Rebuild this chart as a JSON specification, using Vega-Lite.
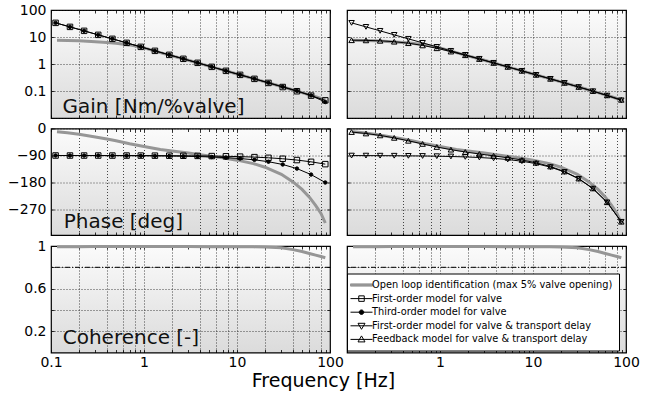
{
"$schema": "https://vega.github.io/schema/vega-lite/v6.json",
"padding": {"left": 6, "top": 2, "right": 5, "bottom": 5},
"bounds": "flush",
"columns": 2,
"spacing": {"row": 10.5, "column": 17},
"title": {"text": "Frequency [Hz]", "orient": "bottom", "anchor": "middle", "fontSize": 19, "fontWeight": "normal", "font": "DejaVu Sans", "color": "black", "offset": 2},
"datasets": {
"model": [
{"f":0.112,"series":"First-order model for valve","gain":33.4,"phase":-90.0},
{"f":0.160,"series":"First-order model for valve","gain":23.7,"phase":-90.1},
{"f":0.227,"series":"First-order model for valve","gain":16.9,"phase":-90.1},
{"f":0.322,"series":"First-order model for valve","gain":12.0,"phase":-90.1},
{"f":0.457,"series":"First-order model for valve","gain":8.55,"phase":-90.2},
{"f":0.650,"series":"First-order model for valve","gain":6.07,"phase":-90.2},
{"f":0.924,"series":"First-order model for valve","gain":4.31,"phase":-90.3},
{"f":1.31,"series":"First-order model for valve","gain":3.07,"phase":-90.5},
{"f":1.87,"series":"First-order model for valve","gain":2.18,"phase":-90.7},
{"f":2.65,"series":"First-order model for valve","gain":1.555,"phase":-90.9},
{"f":3.77,"series":"First-order model for valve","gain":1.104,"phase":-91.3},
{"f":5.35,"series":"First-order model for valve","gain":0.784,"phase":-91.9},
{"f":7.60,"series":"First-order model for valve","gain":0.558,"phase":-92.7},
{"f":10.8,"series":"First-order model for valve","gain":0.396,"phase":-93.8},
{"f":15.4,"series":"First-order model for valve","gain":0.2816,"phase":-95.4},
{"f":21.8,"series":"First-order model for valve","gain":0.1992,"phase":-97.7},
{"f":31.0,"series":"First-order model for valve","gain":0.1403,"phase":-100.8},
{"f":44.1,"series":"First-order model for valve","gain":0.0981,"phase":-105.2},
{"f":62.6,"series":"First-order model for valve","gain":0.0675,"phase":-111.1},
{"f":89.0,"series":"First-order model for valve","gain":0.0451,"phase":-118.8},
{"f":0.112,"series":"Third-order model for valve","gain":33.4,"phase":-90.1},
{"f":0.160,"series":"Third-order model for valve","gain":23.7,"phase":-90.2},
{"f":0.227,"series":"Third-order model for valve","gain":16.9,"phase":-90.2},
{"f":0.322,"series":"Third-order model for valve","gain":12.0,"phase":-90.3},
{"f":0.457,"series":"Third-order model for valve","gain":8.55,"phase":-90.4},
{"f":0.650,"series":"Third-order model for valve","gain":6.07,"phase":-90.6},
{"f":0.924,"series":"Third-order model for valve","gain":4.315,"phase":-90.9},
{"f":1.31,"series":"Third-order model for valve","gain":3.073,"phase":-91.2},
{"f":1.87,"series":"Third-order model for valve","gain":2.183,"phase":-91.7},
{"f":2.65,"series":"Third-order model for valve","gain":1.555,"phase":-92.5},
{"f":3.77,"series":"Third-order model for valve","gain":1.105,"phase":-93.5},
{"f":5.35,"series":"Third-order model for valve","gain":0.785,"phase":-95.0},
{"f":7.60,"series":"Third-order model for valve","gain":0.559,"phase":-97.1},
{"f":10.8,"series":"Third-order model for valve","gain":0.398,"phase":-100.1},
{"f":15.4,"series":"Third-order model for valve","gain":0.284,"phase":-104.5},
{"f":21.8,"series":"Third-order model for valve","gain":0.202,"phase":-110.7},
{"f":31.0,"series":"Third-order model for valve","gain":0.144,"phase":-119.9},
{"f":44.1,"series":"Third-order model for valve","gain":0.102,"phase":-133.6},
{"f":62.6,"series":"Third-order model for valve","gain":0.0684,"phase":-153.6},
{"f":89.0,"series":"Third-order model for valve","gain":0.039,"phase":-180.0},
{"f":0.112,"series":"First-order model for valve & transport delay","gain":33.4,"phase":-90.3},
{"f":0.160,"series":"First-order model for valve & transport delay","gain":23.7,"phase":-90.4},
{"f":0.227,"series":"First-order model for valve & transport delay","gain":16.9,"phase":-90.6},
{"f":0.322,"series":"First-order model for valve & transport delay","gain":12.0,"phase":-90.8},
{"f":0.457,"series":"First-order model for valve & transport delay","gain":8.55,"phase":-91.2},
{"f":0.650,"series":"First-order model for valve & transport delay","gain":6.07,"phase":-91.6},
{"f":0.924,"series":"First-order model for valve & transport delay","gain":4.31,"phase":-92.3},
{"f":1.31,"series":"First-order model for valve & transport delay","gain":3.07,"phase":-93.3},
{"f":1.87,"series":"First-order model for valve & transport delay","gain":2.18,"phase":-94.7},
{"f":2.65,"series":"First-order model for valve & transport delay","gain":1.555,"phase":-96.7},
{"f":3.77,"series":"First-order model for valve & transport delay","gain":1.104,"phase":-99.5},
{"f":5.35,"series":"First-order model for valve & transport delay","gain":0.784,"phase":-103.4},
{"f":7.60,"series":"First-order model for valve & transport delay","gain":0.558,"phase":-109.1},
{"f":10.8,"series":"First-order model for valve & transport delay","gain":0.396,"phase":-117.1},
{"f":15.4,"series":"First-order model for valve & transport delay","gain":0.2816,"phase":-128.7},
{"f":21.8,"series":"First-order model for valve & transport delay","gain":0.1992,"phase":-144.8},
{"f":31.0,"series":"First-order model for valve & transport delay","gain":0.1403,"phase":-167.8},
{"f":44.1,"series":"First-order model for valve & transport delay","gain":0.0981,"phase":-200.5},
{"f":62.6,"series":"First-order model for valve & transport delay","gain":0.0675,"phase":-246.3},
{"f":89.0,"series":"First-order model for valve & transport delay","gain":0.0451,"phase":-311.0},
{"f":0.112,"series":"Feedback model for valve & transport delay","gain":7.59,"phase":-11.8},
{"f":0.160,"series":"Feedback model for valve & transport delay","gain":7.50,"phase":-16.6},
{"f":0.227,"series":"Feedback model for valve & transport delay","gain":7.22,"phase":-23.0},
{"f":0.322,"series":"Feedback model for valve & transport delay","gain":6.69,"phase":-31.2},
{"f":0.457,"series":"Feedback model for valve & transport delay","gain":5.90,"phase":-40.9},
{"f":0.650,"series":"Feedback model for valve & transport delay","gain":4.88,"phase":-51.4},
{"f":0.924,"series":"Feedback model for valve & transport delay","gain":3.83,"phase":-61.6},
{"f":1.31,"series":"Feedback model for valve & transport delay","gain":2.885,"phase":-70.5},
{"f":1.87,"series":"Feedback model for valve & transport delay","gain":2.114,"phase":-78.3},
{"f":2.65,"series":"Feedback model for valve & transport delay","gain":1.530,"phase":-84.9},
{"f":3.77,"series":"Feedback model for valve & transport delay","gain":1.096,"phase":-91.2},
{"f":5.35,"series":"Feedback model for valve & transport delay","gain":0.782,"phase":-97.6},
{"f":7.60,"series":"Feedback model for valve & transport delay","gain":0.557,"phase":-105.0},
{"f":10.8,"series":"Feedback model for valve & transport delay","gain":0.396,"phase":-114.2},
{"f":15.4,"series":"Feedback model for valve & transport delay","gain":0.2821,"phase":-126.7},
{"f":21.8,"series":"Feedback model for valve & transport delay","gain":0.1998,"phase":-143.3},
{"f":31.0,"series":"Feedback model for valve & transport delay","gain":0.1412,"phase":-166.8},
{"f":44.1,"series":"Feedback model for valve & transport delay","gain":0.0993,"phase":-199.8},
{"f":62.6,"series":"Feedback model for valve & transport delay","gain":0.0690,"phase":-245.8},
{"f":89.0,"series":"Feedback model for valve & transport delay","gain":0.0471,"phase":-310.7}
],
"ol": [
{"f":0.116,"gain":7.6,"phase":-11,"coh":0.992},
{"f":0.15,"gain":7.45,"phase":-14.5,"coh":0.993},
{"f":0.2,"gain":7.2,"phase":-19,"coh":0.994},
{"f":0.3,"gain":6.7,"phase":-28,"coh":0.995},
{"f":0.4,"gain":6.3,"phase":-35,"coh":0.995},
{"f":0.5,"gain":5.85,"phase":-41,"coh":0.995},
{"f":0.7,"gain":5.1,"phase":-51,"coh":0.995},
{"f":1,"gain":3.95,"phase":-60,"coh":0.995},
{"f":1.5,"gain":2.65,"phase":-70,"coh":0.995},
{"f":2,"gain":2.0,"phase":-75,"coh":0.995},
{"f":3,"gain":1.37,"phase":-82,"coh":0.995},
{"f":5,"gain":0.836,"phase":-91.5,"coh":0.994},
{"f":7,"gain":0.604,"phase":-97.5,"coh":0.994},
{"f":10,"gain":0.4275,"phase":-105.5,"coh":0.993},
{"f":15,"gain":0.2883,"phase":-117,"coh":0.992},
{"f":20,"gain":0.2177,"phase":-129,"coh":0.99},
{"f":30,"gain":0.146,"phase":-152.5,"coh":0.984},
{"f":40,"gain":0.1095,"phase":-178,"coh":0.966},
{"f":50,"gain":0.0872,"phase":-203,"coh":0.948},
{"f":60,"gain":0.0722,"phase":-229,"coh":0.93},
{"f":70,"gain":0.0613,"phase":-256,"coh":0.914},
{"f":80,"gain":0.0529,"phase":-283,"coh":0.901},
{"f":89,"gain":0.047,"phase":-315,"coh":0.89}
]
},
"resolve": {
"scale": {"shape": "independent", "fill": "independent", "size": "independent", "stroke": "independent"},
"legend": {"shape": "independent", "fill": "independent", "size": "independent", "stroke": "independent"}
},
"concat": [
{
"width": 279, "height": 108,
"resolve": {"axis": {"x": "independent", "y": "independent"}},
"layer": [
{"data": {"name": "ol"}, "mark": {"type": "line", "color": "#969696", "strokeWidth": 3},
"encoding": {
"x": {"field": "f", "type": "quantitative", "scale": {"type": "log", "domain": [0.1, 100], "nice": false},
"axis": {"orient": "bottom", "values": [0.1,0.2,0.3,0.4,0.5,0.6,0.7,0.8,0.9,1,2,3,4,5,6,7,8,9,10,20,30,40,50,60,70,80,90,100], "labels": false, "grid": true, "gridOpacity": {"condition": {"test": "indexof([0.2,0.4,0.6,0.8,1,2,4,6,8,10,20,40,60,80], datum.value) >= 0", "value": 1}, "value": 0}, "title": null}},
"y": {"field": "gain", "type": "quantitative", "scale": {"type": "log", "domain": [0.01, 100], "nice": false},
"axis": {"orient": "left", "values": [0.01, 0.1, 1, 10, 100], "format": "~g", "labelExpr": "datum.value == 0.01 ? '' : datum.label", "grid": true, "title": null}}
}},
{"data": {"name": "model"}, "transform": [{"filter": {"field": "series", "oneOf": ["First-order model for valve", "Third-order model for valve"]}}],
"mark": {"type": "line", "color": "black", "strokeWidth": 1},
"encoding": {
"x": {"field": "f", "type": "quantitative", "axis": {"orient": "top", "values": [0.1,0.2,0.3,0.4,0.5,0.6,0.7,0.8,0.9,1,2,3,4,5,6,7,8,9,10,20,30,40,50,60,70,80,90,100], "labels": false, "grid": false, "title": null}},
"y": {"field": "gain", "type": "quantitative", "axis": {"orient": "right", "values": [0.01, 0.1, 1, 10, 100], "labels": false, "grid": false, "title": null}},
"detail": {"field": "series"}
}},
{"data": {"name": "model"}, "transform": [{"filter": {"field": "series", "oneOf": ["First-order model for valve", "Third-order model for valve"]}}],
"mark": {"type": "point", "filled": true, "stroke": "black", "strokeWidth": 1, "opacity": 1},
"encoding": {
"x": {"field": "f", "type": "quantitative", "axis": null},
"y": {"field": "gain", "type": "quantitative", "axis": null},
"shape": {"field": "series", "type": "nominal", "scale": {"domain": ["First-order model for valve", "Third-order model for valve"], "range": ["square", "circle"]}, "legend": null},
"fill": {"field": "series", "type": "nominal", "scale": {"domain": ["First-order model for valve", "Third-order model for valve"], "range": ["transparent", "black"]}, "legend": null},
"size": {"field": "series", "type": "nominal", "scale": {"domain": ["First-order model for valve", "Third-order model for valve"], "range": [30, 12]}, "legend": null}
}},
{"data": {"values": [{}]}, "mark": {"type": "text", "text": "Gain [Nm/%valve]", "align": "left", "baseline": "alphabetic", "fontSize": 20, "font": "DejaVu Sans", "color": "#111"},
"encoding": {"x": {"datum": 0.133, "type": "quantitative", "axis": null}, "y": {"datum": 0.0148, "type": "quantitative", "axis": null}}}
]
},
{
"width": 279, "height": 108,
"resolve": {"axis": {"x": "independent", "y": "independent"}},
"layer": [
{"data": {"name": "ol"}, "mark": {"type": "line", "color": "#969696", "strokeWidth": 3},
"encoding": {
"x": {"field": "f", "type": "quantitative", "scale": {"type": "log", "domain": [0.1, 100], "nice": false},
"axis": {"orient": "bottom", "values": [0.1,0.2,0.3,0.4,0.5,0.6,0.7,0.8,0.9,1,2,3,4,5,6,7,8,9,10,20,30,40,50,60,70,80,90,100], "labels": false, "grid": true, "gridOpacity": {"condition": {"test": "indexof([0.2,0.4,0.6,0.8,1,2,4,6,8,10,20,40,60,80], datum.value) >= 0", "value": 1}, "value": 0}, "title": null}},
"y": {"field": "gain", "type": "quantitative", "scale": {"type": "log", "domain": [0.01, 100], "nice": false},
"axis": {"orient": "left", "values": [0.01, 0.1, 1, 10, 100], "labels": false, "grid": true, "title": null}}
}},
{"data": {"name": "model"}, "transform": [{"filter": {"field": "series", "oneOf": ["First-order model for valve & transport delay", "Feedback model for valve & transport delay"]}}],
"mark": {"type": "line", "color": "black", "strokeWidth": 1},
"encoding": {
"x": {"field": "f", "type": "quantitative", "axis": {"orient": "top", "values": [0.1,0.2,0.3,0.4,0.5,0.6,0.7,0.8,0.9,1,2,3,4,5,6,7,8,9,10,20,30,40,50,60,70,80,90,100], "labels": false, "grid": false, "title": null}},
"y": {"field": "gain", "type": "quantitative", "axis": {"orient": "right", "values": [0.01, 0.1, 1, 10, 100], "labels": false, "grid": false, "title": null}},
"detail": {"field": "series"}
}},
{"data": {"name": "model"}, "transform": [{"filter": {"field": "series", "oneOf": ["First-order model for valve & transport delay", "Feedback model for valve & transport delay"]}}],
"mark": {"type": "point", "filled": true, "stroke": "black", "strokeWidth": 1, "opacity": 1},
"encoding": {
"x": {"field": "f", "type": "quantitative", "axis": null},
"y": {"field": "gain", "type": "quantitative", "axis": null},
"shape": {"field": "series", "type": "nominal", "scale": {"domain": ["First-order model for valve & transport delay", "Feedback model for valve & transport delay"], "range": ["triangle-down", "triangle-up"]}, "legend": null},
"fill": {"field": "series", "type": "nominal", "scale": {"domain": ["First-order model for valve & transport delay", "Feedback model for valve & transport delay"], "range": ["transparent", "transparent"]}, "legend": null},
"size": {"field": "series", "type": "nominal", "scale": {"domain": ["First-order model for valve & transport delay", "Feedback model for valve & transport delay"], "range": [30, 30]}, "legend": null}
}}
]
},
{
"width": 279, "height": 106.5,
"resolve": {"axis": {"x": "independent", "y": "independent"}},
"layer": [
{"data": {"name": "ol"}, "mark": {"type": "line", "color": "#969696", "strokeWidth": 3},
"encoding": {
"x": {"field": "f", "type": "quantitative", "scale": {"type": "log", "domain": [0.1, 100], "nice": false},
"axis": {"orient": "bottom", "values": [0.1,0.2,0.3,0.4,0.5,0.6,0.7,0.8,0.9,1,2,3,4,5,6,7,8,9,10,20,30,40,50,60,70,80,90,100], "labels": false, "grid": true, "gridOpacity": {"condition": {"test": "indexof([0.2,0.4,0.6,0.8,1,2,4,6,8,10,20,40,60,80], datum.value) >= 0", "value": 1}, "value": 0}, "title": null}},
"y": {"field": "phase", "type": "quantitative", "scale": {"domain": [-355, 0], "nice": false, "zero": false},
"axis": {"orient": "left", "values": [0, -90, -180, -270], "grid": true, "title": null}}
}},
{"data": {"name": "model"}, "transform": [{"filter": {"field": "series", "oneOf": ["First-order model for valve", "Third-order model for valve"]}}],
"mark": {"type": "line", "color": "black", "strokeWidth": 1},
"encoding": {
"x": {"field": "f", "type": "quantitative", "axis": {"orient": "top", "values": [0.1,0.2,0.3,0.4,0.5,0.6,0.7,0.8,0.9,1,2,3,4,5,6,7,8,9,10,20,30,40,50,60,70,80,90,100], "labels": false, "grid": false, "title": null}},
"y": {"field": "phase", "type": "quantitative", "axis": {"orient": "right", "values": [0, -90, -180, -270], "labels": false, "grid": false, "title": null}},
"detail": {"field": "series"}
}},
{"data": {"name": "model"}, "transform": [{"filter": {"field": "series", "oneOf": ["First-order model for valve", "Third-order model for valve"]}}],
"mark": {"type": "point", "filled": true, "stroke": "black", "strokeWidth": 1, "opacity": 1},
"encoding": {
"x": {"field": "f", "type": "quantitative", "axis": null},
"y": {"field": "phase", "type": "quantitative", "axis": null},
"shape": {"field": "series", "type": "nominal", "scale": {"domain": ["First-order model for valve", "Third-order model for valve"], "range": ["square", "circle"]}, "legend": null},
"fill": {"field": "series", "type": "nominal", "scale": {"domain": ["First-order model for valve", "Third-order model for valve"], "range": ["transparent", "black"]}, "legend": null},
"size": {"field": "series", "type": "nominal", "scale": {"domain": ["First-order model for valve", "Third-order model for valve"], "range": [30, 12]}, "legend": null}
}},
{"data": {"values": [{}]}, "mark": {"type": "text", "text": "Phase [deg]", "align": "left", "baseline": "alphabetic", "fontSize": 20, "font": "DejaVu Sans", "color": "#111"},
"encoding": {"x": {"datum": 0.137, "type": "quantitative", "axis": null}, "y": {"datum": -332, "type": "quantitative", "axis": null}}}
]
},
{
"width": 279, "height": 106.5,
"resolve": {"axis": {"x": "independent", "y": "independent"}},
"layer": [
{"data": {"name": "ol"}, "mark": {"type": "line", "color": "#969696", "strokeWidth": 3},
"encoding": {
"x": {"field": "f", "type": "quantitative", "scale": {"type": "log", "domain": [0.1, 100], "nice": false},
"axis": {"orient": "bottom", "values": [0.1,0.2,0.3,0.4,0.5,0.6,0.7,0.8,0.9,1,2,3,4,5,6,7,8,9,10,20,30,40,50,60,70,80,90,100], "labels": false, "grid": true, "gridOpacity": {"condition": {"test": "indexof([0.2,0.4,0.6,0.8,1,2,4,6,8,10,20,40,60,80], datum.value) >= 0", "value": 1}, "value": 0}, "title": null}},
"y": {"field": "phase", "type": "quantitative", "scale": {"domain": [-355, 0], "nice": false, "zero": false},
"axis": {"orient": "left", "values": [0, -90, -180, -270], "labels": false, "grid": true, "title": null}}
}},
{"data": {"name": "model"}, "transform": [{"filter": {"field": "series", "oneOf": ["First-order model for valve & transport delay", "Feedback model for valve & transport delay"]}}],
"mark": {"type": "line", "color": "black", "strokeWidth": 1},
"encoding": {
"x": {"field": "f", "type": "quantitative", "axis": {"orient": "top", "values": [0.1,0.2,0.3,0.4,0.5,0.6,0.7,0.8,0.9,1,2,3,4,5,6,7,8,9,10,20,30,40,50,60,70,80,90,100], "labels": false, "grid": false, "title": null}},
"y": {"field": "phase", "type": "quantitative", "axis": {"orient": "right", "values": [0, -90, -180, -270], "labels": false, "grid": false, "title": null}},
"detail": {"field": "series"}
}},
{"data": {"name": "model"}, "transform": [{"filter": {"field": "series", "oneOf": ["First-order model for valve & transport delay", "Feedback model for valve & transport delay"]}}],
"mark": {"type": "point", "filled": true, "stroke": "black", "strokeWidth": 1, "opacity": 1},
"encoding": {
"x": {"field": "f", "type": "quantitative", "axis": null},
"y": {"field": "phase", "type": "quantitative", "axis": null},
"shape": {"field": "series", "type": "nominal", "scale": {"domain": ["First-order model for valve & transport delay", "Feedback model for valve & transport delay"], "range": ["triangle-down", "triangle-up"]}, "legend": null},
"fill": {"field": "series", "type": "nominal", "scale": {"domain": ["First-order model for valve & transport delay", "Feedback model for valve & transport delay"], "range": ["transparent", "transparent"]}, "legend": null},
"size": {"field": "series", "type": "nominal", "scale": {"domain": ["First-order model for valve & transport delay", "Feedback model for valve & transport delay"], "range": [30, 30]}, "legend": null}
}}
]
},
{
"width": 279, "height": 106.5,
"resolve": {"axis": {"x": "independent", "y": "independent"}},
"layer": [
{"data": {"name": "ol"}, "mark": {"type": "line", "color": "#969696", "strokeWidth": 3},
"encoding": {
"x": {"field": "f", "type": "quantitative", "scale": {"type": "log", "domain": [0.1, 100], "nice": false},
"axis": {"orient": "bottom", "values": [0.1,0.2,0.3,0.4,0.5,0.6,0.7,0.8,0.9,1,2,3,4,5,6,7,8,9,10,20,30,40,50,60,70,80,90,100], "format": "~g", "labelExpr": "datum.value == 0.1 || datum.value == 1 || datum.value == 10 || datum.value == 100 ? datum.label : ''", "grid": true, "gridOpacity": {"condition": {"test": "indexof([0.2,0.4,0.6,0.8,1,2,4,6,8,10,20,40,60,80], datum.value) >= 0", "value": 1}, "value": 0}, "title": null}},
"y": {"field": "coh", "type": "quantitative", "scale": {"domain": [0, 1], "nice": false},
"axis": {"orient": "left", "values": [0.2, 0.4, 0.6, 0.8, 1], "format": "~g", "labelExpr": "datum.value == 0.4 || datum.value == 0.8 ? '' : datum.label", "grid": true, "title": null}}
}},
{"data": {"values": [{}]}, "mark": {"type": "rule", "color": "black", "strokeWidth": 1, "strokeDash": [5, 2, 1, 2]},
"encoding": {"y": {"datum": 0.8, "type": "quantitative", "axis": null}}},
{"data": {"values": [{}]}, "mark": {"type": "text", "text": "Coherence [-]", "align": "left", "baseline": "alphabetic", "fontSize": 20, "font": "DejaVu Sans", "color": "#111"},
"encoding": {
"x": {"datum": 0.1336, "type": "quantitative", "axis": {"orient": "top", "values": [0.1,0.2,0.3,0.4,0.5,0.6,0.7,0.8,0.9,1,2,3,4,5,6,7,8,9,10,20,30,40,50,60,70,80,90,100], "labels": false, "grid": false, "title": null}},
"y": {"datum": 0.078, "type": "quantitative", "axis": {"orient": "right", "values": [0.2, 0.4, 0.6, 0.8, 1], "labels": false, "grid": false, "title": null}}}}
]
},
{
"width": 279, "height": 106.5,
"resolve": {"axis": {"x": "independent", "y": "independent"}},
"layer": [
{"data": {"name": "ol"}, "mark": {"type": "line", "color": "#969696", "strokeWidth": 3},
"encoding": {
"x": {"field": "f", "type": "quantitative", "scale": {"type": "log", "domain": [0.1, 100], "nice": false},
"axis": {"orient": "bottom", "values": [0.1,0.2,0.3,0.4,0.5,0.6,0.7,0.8,0.9,1,2,3,4,5,6,7,8,9,10,20,30,40,50,60,70,80,90,100], "format": "~g", "labelExpr": "datum.value == 1 || datum.value == 10 || datum.value == 100 ? datum.label : ''", "grid": true, "gridOpacity": {"condition": {"test": "indexof([0.2,0.4,0.6,0.8,1,2,4,6,8,10,20,40,60,80], datum.value) >= 0", "value": 1}, "value": 0}, "title": null}},
"y": {"field": "coh", "type": "quantitative", "scale": {"domain": [0, 1], "nice": false},
"axis": {"orient": "left", "values": [0.2, 0.4, 0.6, 0.8, 1], "labels": false, "grid": true, "title": null}}
}},
{"data": {"values": [{}]}, "mark": {"type": "rule", "color": "black", "strokeWidth": 1, "strokeDash": [5, 2, 1, 2]},
"encoding": {"y": {"datum": 0.8, "type": "quantitative", "axis": null}}},
{"data": {"name": "model"}, "transform": [{"filter": "false"}],
"mark": {"type": "point", "filled": true, "opacity": 1, "strokeWidth": 1},
"encoding": {
"x": {"field": "f", "type": "quantitative", "axis": {"orient": "top", "values": [0.1,0.2,0.3,0.4,0.5,0.6,0.7,0.8,0.9,1,2,3,4,5,6,7,8,9,10,20,30,40,50,60,70,80,90,100], "labels": false, "grid": false, "title": null}},
"y": {"field": "gain", "type": "quantitative", "axis": {"orient": "right", "values": [0.2, 0.4, 0.6, 0.8, 1], "labels": false, "grid": false, "title": null}},
"shape": {"field": "series", "type": "nominal",
"scale": {"domain": ["Open loop identification (max 5% valve opening)", "First-order model for valve", "Third-order model for valve", "First-order model for valve & transport delay", "Feedback model for valve & transport delay"],
"range": ["M-2.2,-0.22H2.2V0.22H-2.2Z", "M-2.2,0H2.2M-0.55,-0.55H0.55V0.55H-0.55Z", "M-2.2,0H2.2M-0.45,0A0.45,0.45,0,1,1,0.45,0A0.45,0.45,0,1,1,-0.45,0Z", "M-2.2,0H2.2M-0.7,-0.5H0.7L0,0.7Z", "M-2.2,0H2.2M-0.7,0.5H0.7L0,-0.7Z"]},
"legend": {"title": null, "orient": "none", "legendX": 0, "legendY": 27.5, "padding": 6, "strokeColor": "black", "fillColor": "white", "symbolSize": 100, "symbolStrokeWidth": 1, "symbolOffset": 3, "labelOffset": 5, "rowPadding": 2.6, "labelFontSize": 9.8, "labelFont": "DejaVu Sans", "labelColor": "black", "labelLimit": 400}},
"fill": {"field": "series", "type": "nominal",
"scale": {"domain": ["Open loop identification (max 5% valve opening)", "First-order model for valve", "Third-order model for valve", "First-order model for valve & transport delay", "Feedback model for valve & transport delay"],
"range": ["#969696", "transparent", "black", "transparent", "transparent"]}},
"stroke": {"field": "series", "type": "nominal",
"scale": {"domain": ["Open loop identification (max 5% valve opening)", "First-order model for valve", "Third-order model for valve", "First-order model for valve & transport delay", "Feedback model for valve & transport delay"],
"range": ["#969696", "black", "black", "black", "black"]}}
}}
]
}
],
"config": {
"font": "DejaVu Sans",
"view": {"stroke": "black", "strokeWidth": 1.2, "fill": {"gradient": "linear", "x1": 0, "y1": 0, "x2": 0, "y2": 1, "stops": [{"offset": 0, "color": "#fbfbfb"}, {"offset": 1, "color": "#dbdbdb"}]}},
"axis": {"labelFont": "DejaVu Sans", "labelFontSize": 14, "labelColor": "black", "gridColor": "#1a1a1a", "gridDash": [1, 2], "gridWidth": 0.8, "tickColor": "black", "tickSize": -3, "tickWidth": 0.8, "domain": false, "labelFlush": false, "labelOverlap": false},
"axisX": {"labelPadding": 6},
"axisY": {"labelPadding": 8}
}
}
